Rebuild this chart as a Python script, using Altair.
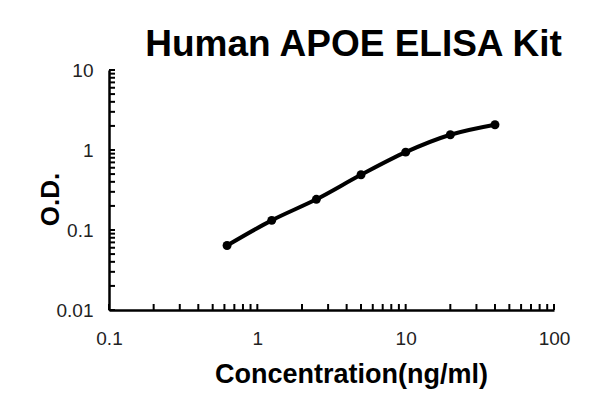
import altair as alt
import pandas as pd

# Data
conc = [0.625, 1.25, 2.5, 5, 10, 20, 40]
od = [0.064, 0.132, 0.242, 0.49, 0.94, 1.55, 2.07]

x_domain = [0.1, 100]
y_domain = [0.01, 10]
x_tick_values = [0.1, 0.2, 0.3, 0.4, 0.5, 0.6, 0.7, 0.8, 0.9,
                 1, 2, 3, 4, 5, 6, 7, 8, 9,
                 10, 20, 30, 40, 50, 60, 70, 80, 90, 100]
y_tick_values = [0.01, 0.02, 0.03, 0.04, 0.05, 0.06, 0.07, 0.08, 0.09,
                 0.1, 0.2, 0.3, 0.4, 0.5, 0.6, 0.7, 0.8, 0.9,
                 1, 2, 3, 4, 5, 6, 7, 8, 9, 10]
x_labels = ["0.1", "1", "10", "100"]
y_labels = ["0.01", "0.1", "1", "10"]

df = pd.DataFrame({"conc": conc, "od": od})
# inward tick marks sit on the axis lines (domain minimum of the other scale)
xt_df = pd.DataFrame({"conc": x_tick_values, "od": [y_domain[0]] * len(x_tick_values)})
yt_df = pd.DataFrame({"conc": [x_domain[0]] * len(y_tick_values), "od": y_tick_values})

FONT = "Liberation Sans"


def label_expr(labels):
    arr = "[" + ",".join("'" + s + "'" for s in labels) + "]"
    return f"indexof({arr}, format(datum.value, '~g')) >= 0 ? format(datum.value, '~g') : ''"


x_scale = alt.Scale(type="log", domain=x_domain, nice=False)
y_scale = alt.Scale(type="log", domain=y_domain, nice=False)

x_enc = alt.X(
    "conc:Q",
    scale=x_scale,
    axis=alt.Axis(
        values=x_tick_values,
        labelExpr=label_expr(x_labels),
        grid=False,
        ticks=False,
        domainColor="black",
        domainWidth=2.5,
        labelPadding=19,
        labelFont=FONT,
        labelFontSize=19,
        labelColor="#222222",
        labelFlush=False,
        labelOverlap=False,
        title="Concentration(ng/ml)",
        titleFont=FONT,
        titleFontSize=27,
        titleFontWeight="bold",
        titleColor="black",
        titleBaseline="alphabetic",
        titleAlign="center",
        titleX=242,
        titleY=72,
    ),
)

y_enc = alt.Y(
    "od:Q",
    scale=y_scale,
    axis=alt.Axis(
        values=y_tick_values,
        labelExpr=label_expr(y_labels),
        grid=False,
        ticks=False,
        domainColor="black",
        domainWidth=2.5,
        labelPadding=16,
        labelFont=FONT,
        labelFontSize=19,
        labelColor="#222222",
        labelFlush=False,
        labelOverlap=False,
        title="O.D.",
        titleFont=FONT,
        titleFontSize=26,
        titleFontWeight="bold",
        titleColor="black",
        titleBaseline="alphabetic",
        titleAlign="center",
        titleAngle=270,
        titleX=-51,
        titleY=129,
    ),
)

line = alt.Chart(df).mark_line(
    color="black", strokeWidth=4, interpolate="monotone"
).encode(x=x_enc, y=y_enc)

points = alt.Chart(df).mark_circle(color="black", size=80, opacity=1).encode(
    x=alt.X("conc:Q"), y=alt.Y("od:Q")
)

x_ticks = alt.Chart(xt_df).mark_tick(
    color="black", orient="vertical", size=6, thickness=2, yOffset=-3, opacity=1
).encode(x=alt.X("conc:Q"), y=alt.Y("od:Q"))

y_ticks = alt.Chart(yt_df).mark_tick(
    color="black", orient="horizontal", size=6, thickness=2, xOffset=3, opacity=1
).encode(x=alt.X("conc:Q"), y=alt.Y("od:Q"))

chart = (
    alt.layer(line, x_ticks, y_ticks, points)
    .properties(
        width=445,
        height=240,
        background="white",
        autosize=alt.AutoSizeParams(type="none"),
        padding={"left": 109, "top": 70, "right": 46, "bottom": 89},
        title=alt.TitleParams(
            "Human APOE ELISA Kit",
            font=FONT,
            fontSize=37,
            fontWeight="bold",
            color="black",
            anchor="middle",
            baseline="alphabetic",
            dx=22,
            dy=37,
            offset=5,
        ),
    )
    .configure_view(strokeWidth=0, stroke="transparent")
)

chart.save("out.html", embed_options={"renderer": "svg", "actions": False})
